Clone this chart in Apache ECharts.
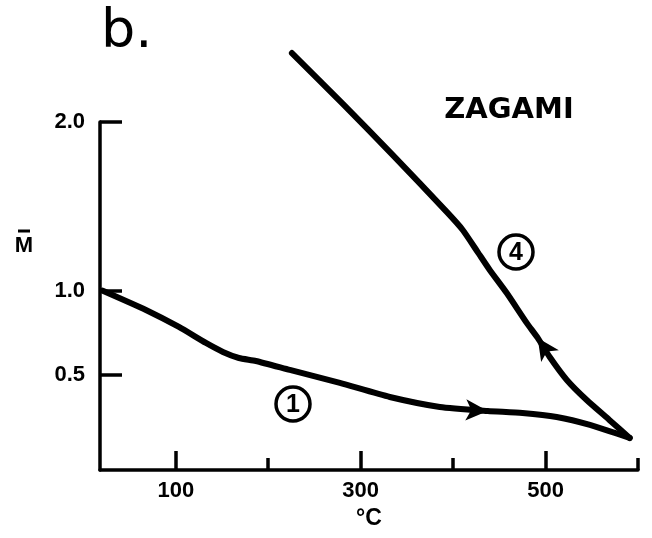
<!DOCTYPE html>
<html lang="en">
<head>
    <meta charset="UTF-8">
    <title>Zagami</title>
    <style>
        html,body{margin:0;padding:0;background:#fff;}
        #main{width:652px;height:538px;}
    </style>
</head>
<body>
<div id="main"></div>
<script src="https://cdn.jsdelivr.net/npm/echarts@6/dist/echarts.min.js"></script>
<script>
    const myChart = echarts.init(document.getElementById('main'));

    /* tick values */
    const xMajor = [100, 300, 500];
    const xMinor = [200, 400, 600];
    const yTicks = [0.5, 1.0, 2.0];

    /* curve 1 : heating */
    const temp1 = [21, 67.7, 103.4, 132.6, 151, 168.3, 186.6, 223.4, 277.5, 331.5, 385.6, 437.5, 475, 512, 548, 591];
    const m1 = [1.0, 0.886, 0.785, 0.690, 0.637, 0.601, 0.583, 0.530, 0.453, 0.370, 0.311, 0.287, 0.275, 0.251, 0.204, 0.127];
    const arrow1 = 11;

    /* curve 4 : cooling */
    const temp4 = [591, 569, 544.5, 523, 504.5, 491.5, 479.6, 458, 439.6, 426.6, 410.4, 393.1, 334.8, 280.7, 225.6];
    const m4 = [0.127, 0.234, 0.352, 0.471, 0.607, 0.72, 0.809, 0.986, 1.123, 1.229, 1.360, 1.467, 1.804, 2.107, 2.409];
    const arrow4 = 5;

    const font = 'DejaVu Sans';
    const labFont = 'Liberation Sans';

    // build points, arrow head on one point
    function pts(xs, ys, idx, rot){
        return xs.map((x, i) => i === idx
            ? {value: [x, ys[i]], symbol: 'arrow', symbolSize: [16, 22], symbolRotate: rot}
            : [x, ys[i]]);
    }

    const lineCommon = {
        type: 'line',
        smooth: 0.2,
        clip: false,
        showSymbol: true,
        symbol: 'none',
        lineStyle: {color: '#000', width: 6, cap: 'round', join: 'round'},
        itemStyle: {color: '#000'},
        silent: true
    };

    function circled(label, cx, cy){
        return {
            type: 'group',
            x: cx, y: cy,
            children: [
                {type: 'circle', shape: {cx: 0, cy: 0, r: 17}, style: {fill: 'none', stroke: '#000', lineWidth: 3.5}},
                {type: 'text', style: {text: label, x: 0, y: 1, align: 'center', verticalAlign: 'middle',
                    fontFamily: labFont, fontWeight: 'bold', fontSize: 25, fill: '#000'}}
            ]
        };
    }

    const option = {
        animation: false,
        backgroundColor: '#fff',
        grid: {left: 100, right: 14, top: 122, bottom: 68},
        xAxis: [
            {
                type: 'value', min: 18, max: 600,
                name: '°C', nameLocation: 'middle', nameGap: 37,
                nameTextStyle: {fontFamily: labFont, fontWeight: 'bold', fontSize: 23, color: '#000'},
                splitLine: {show: false},
                axisLine: {onZero: false, lineStyle: {color: '#000', width: 3.5}},
                axisTick: {inside: true, length: 19, customValues: xMajor, lineStyle: {color: '#000', width: 3.5}},
                axisLabel: {customValues: xMajor, margin: 10, fontFamily: labFont, fontWeight: 'bold', fontSize: 22, color: '#000'}
            },
            {
                type: 'value', min: 18, max: 600, position: 'bottom',
                splitLine: {show: false},
                axisLine: {show: false, onZero: false},
                axisTick: {inside: true, length: 12, customValues: xMinor, lineStyle: {color: '#000', width: 3.5}},
                axisLabel: {show: false}
            }
        ],
        yAxis: {
            type: 'value', min: -0.063, max: 2.0,
            splitLine: {show: false},
            axisLine: {onZero: false, lineStyle: {color: '#000', width: 3.5}},
            axisTick: {inside: true, length: 22, customValues: yTicks, lineStyle: {color: '#000', width: 3.5}},
            axisLabel: {customValues: yTicks, margin: 15, fontFamily: labFont, fontWeight: 'bold', fontSize: 22, color: '#000',
                formatter: v => v.toFixed(1)}
        },
        graphic: [
            {type: 'text', left: 101, top: 6, style: {text: 'b.', fontFamily: font, fontSize: 54, fill: '#000'}},
            {type: 'text', x: 509, y: 110, style: {text: 'ZAGAMI', align: 'center', verticalAlign: 'middle',
                fontFamily: font, fontWeight: 'bold', fontSize: 29, fill: '#000'}},
            // M with bar above
            {type: 'text', x: 24, y: 246, style: {text: 'M', align: 'center', verticalAlign: 'middle',
                fontFamily: labFont, fontWeight: 'bold', fontSize: 22, fill: '#000'}},
            {type: 'line', shape: {x1: 18, y1: 231, x2: 30, y2: 231}, style: {stroke: '#000', lineWidth: 3}},
            circled('1', 293, 404),
            circled('4', 516, 252)
        ],
        series: [
            Object.assign({name: '1', data: pts(temp1, m1, arrow1, -93)}, lineCommon),
            Object.assign({name: '4', data: pts(temp4, m4, arrow4, 34)}, lineCommon)
        ]
    };

    myChart.setOption(option);
</script>
</body>
</html>
